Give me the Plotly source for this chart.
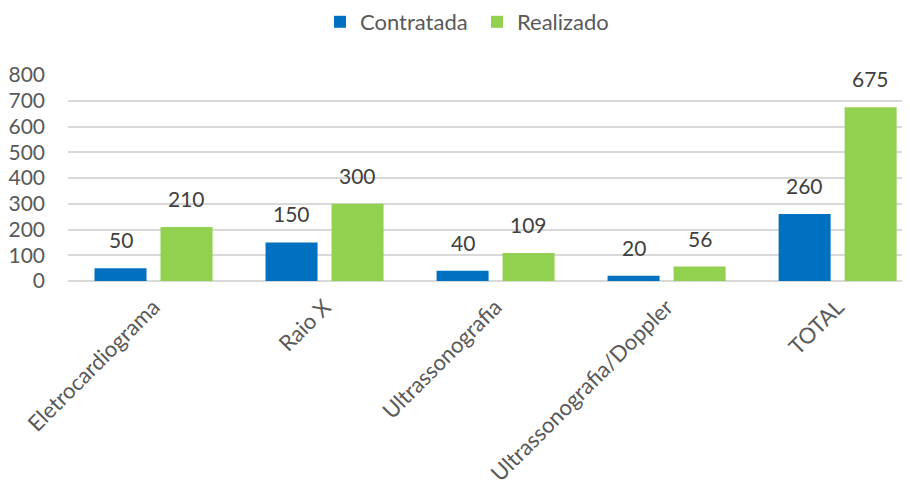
import plotly.graph_objects as go

categories = ["Eletrocardiograma", "Raio X", "Ultrassonografia", "Ultrassonografia/Doppler", "TOTAL"]
contratada = [50, 150, 40, 20, 260]
realizado = [210, 300, 109, 56, 675]
y_ticks = [0, 100, 200, 300, 400, 500, 600, 700, 800]

BLUE = "#0070C0"
GREEN = "#92D050"
FONT = "Lato"
TXT = "#595959"

fig = go.Figure()
fig.add_trace(go.Bar(name="Contratada", x=categories, y=contratada, marker=dict(color=BLUE, line=dict(width=0))))
fig.add_trace(go.Bar(name="Realizado", x=categories, y=realizado, marker=dict(color=GREEN, line=dict(width=0))))

ann = []
for series, shift in ((contratada, -33), (realizado, 33)):
    for c, v in zip(categories, series):
        ann.append(dict(x=c, y=v, text=str(v), showarrow=False, xshift=shift, yshift=14,
                        yanchor="bottom", font=dict(family=FONT, size=21, color="#404040")))

fig.update_layout(
    width=910, height=481,
    margin=dict(l=60, r=0, t=67, b=208, autoexpand=False),
    paper_bgcolor="white", plot_bgcolor="white",
    barmode="group", bargap=0.228, bargroupgap=0.212,
    font=dict(family=FONT, size=21, color=TXT),
    legend=dict(orientation="h", x=0.5 - 16 / 850, xanchor="center", y=1 - 14 / 481, yanchor="middle",
                yref="container", font=dict(family=FONT, size=22, color=TXT), itemwidth=30,
                entrywidth=112, entrywidthmode="pixels"),
    showlegend=True,
    annotations=ann,
    xaxis=dict(range=[-0.5, 4.47], tickangle=-45, showgrid=False, showline=False, ticks="",
               automargin=False, ticklabelstandoff=8, tickfont=dict(family=FONT, size=22, color=TXT)),
    yaxis=dict(range=[0, 800], tickvals=y_ticks, showgrid=True, gridcolor="#D9D9D9", gridwidth=2,
               zeroline=True, zerolinecolor="#D9D9D9", zerolinewidth=2, ticks="", ticklabelstandoff=22,
               automargin=False, tickfont=dict(family=FONT, size=21, color=TXT)),
)
fig.write_html("out.html")
